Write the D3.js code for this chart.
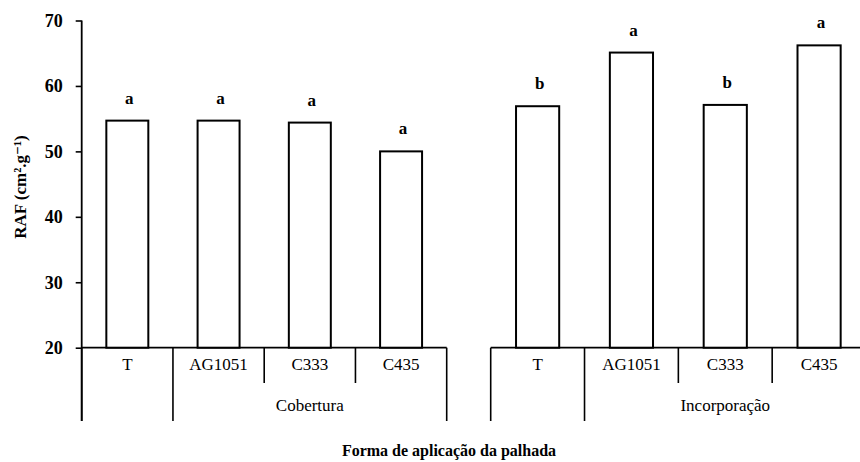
<!DOCTYPE html>
<html>
<head>
<meta charset="utf-8">
<script src="https://cdn.jsdelivr.net/npm/d3@7"></script>
<style>
  body { margin: 0; background: #fff; }
  svg text { font-family: "Liberation Serif", "DejaVu Serif", serif; fill: #000; }
</style>
</head>
<body>
<svg></svg>
<script>
// data
const groups = ['Cobertura', 'Incorporação'];
const cultivars = ['T', 'AG1051', 'C333', 'C435'];
const coberturaVals = [54.7, 54.7, 54.4, 50.0];
const incorporacaoVals = [56.9, 65.1, 57.1, 66.2];
const coberturaLetters = ['a', 'a', 'a', 'a'];
const incorporacaoLetters = ['b', 'a', 'b', 'a'];
const yTicks = [20, 30, 40, 50, 60, 70];

const WIDTH = 860;
const HEIGHT = 462;
const BASE = 347.7;     // y of value 20
const LOW = 421;        // bottom of long separator lines
const SHORT = 383;      // bottom of short separator lines

let svg = d3.select('svg').attr('width', WIDTH).attr('height', HEIGHT);

let yScale = d3.scaleLinear().domain([20, 70]).range([BASE, 20.5]);

// y axis
let yAxis = svg.append('g')
  .attr('transform', 'translate(81.7,0)')
  .call(d3.axisLeft(yScale).tickValues(yTicks).tickSize(6).tickPadding(13).tickSizeOuter(0));
yAxis.select('.domain').remove();
yAxis.selectAll('.tick line').attr('stroke', '#000').attr('stroke-width', 1.6);
yAxis.selectAll('.tick text')
  .style('font-family', '"Liberation Serif", serif')
  .style('font-size', '18px').style('font-weight', 'bold');
svg.append('line')
  .attr('x1', 81.7).attr('x2', 81.7).attr('y1', 20.5).attr('y2', LOW)
  .attr('stroke', '#000').attr('stroke-width', 1.8);

svg.append('text')
  .attr('transform', 'translate(26,187) rotate(-90)')
  .attr('text-anchor', 'middle')
  .style('font-size', '17px').style('font-weight', 'bold')
  .text('RAF (cm\u00B2.g\u207B\u00B9)');

const panels = [
  { name: groups[0], range: [81.7, 446.7], vals: coberturaVals, letters: coberturaLetters },
  { name: groups[1], range: [490.7, 866], vals: incorporacaoVals, letters: incorporacaoLetters }
];

panels.forEach(function(p) {
  let x = d3.scaleBand().domain(cultivars).range(p.range).padding(0);
  let bw = x.bandwidth() * 0.46;
  let g = svg.append('g');

  // baseline
  g.append('line')
    .attr('x1', p.range[0]).attr('x2', p.range[1])
    .attr('y1', BASE).attr('y2', BASE)
    .attr('stroke', '#000').attr('stroke-width', 1.8);

  // bars
  g.selectAll('rect').data(p.vals).enter().append('rect')
    .attr('x', (d, i) => x(cultivars[i]) + (x.bandwidth() - bw) / 2)
    .attr('y', d => yScale(d))
    .attr('width', bw)
    .attr('height', d => BASE - yScale(d))
    .attr('fill', '#fff').attr('stroke', '#000').attr('stroke-width', 2);

  // letters
  g.selectAll('.letter').data(p.letters).enter().append('text')
    .attr('class', 'letter')
    .attr('x', (d, i) => x(cultivars[i]) + x.bandwidth() / 2 + 2)
    .attr('y', (d, i) => yScale(p.vals[i]) - 17)
    .attr('text-anchor', 'middle')
    .style('font-size', '17px').style('font-weight', 'bold')
    .text(d => d);

  // separators below baseline
  let edges = cultivars.map(c => x(c)).concat([p.range[1]]);
  edges.forEach(function(e, i) {
    let long = (i == 0 || i == 1 || i == edges.length - 1);
    g.append('line')
      .attr('x1', e).attr('x2', e).attr('y1', BASE).attr('y2', long ? LOW : SHORT)
      .attr('stroke', '#000').attr('stroke-width', 1.6);
  });

  // cultivar labels
  g.selectAll('.cat').data(cultivars).enter().append('text')
    .attr('class', 'cat')
    .attr('x', d => x(d) + x.bandwidth() / 2)
    .attr('y', 370)
    .attr('text-anchor', 'middle')
    .style('font-size', '17px')
    .text(d => d);

  // group label
  g.append('text')
    .attr('x', (x(cultivars[1]) + p.range[1]) / 2)
    .attr('y', 411)
    .attr('text-anchor', 'middle')
    .style('font-size', '17px')
    .text(p.name);
});

svg.append('text')
  .attr('x', 449).attr('y', 456)
  .attr('text-anchor', 'middle')
  .style('font-size', '16px').style('font-weight', 'bold')
  .text('Forma de aplicação da palhada');
</script>
</body>
</html>
